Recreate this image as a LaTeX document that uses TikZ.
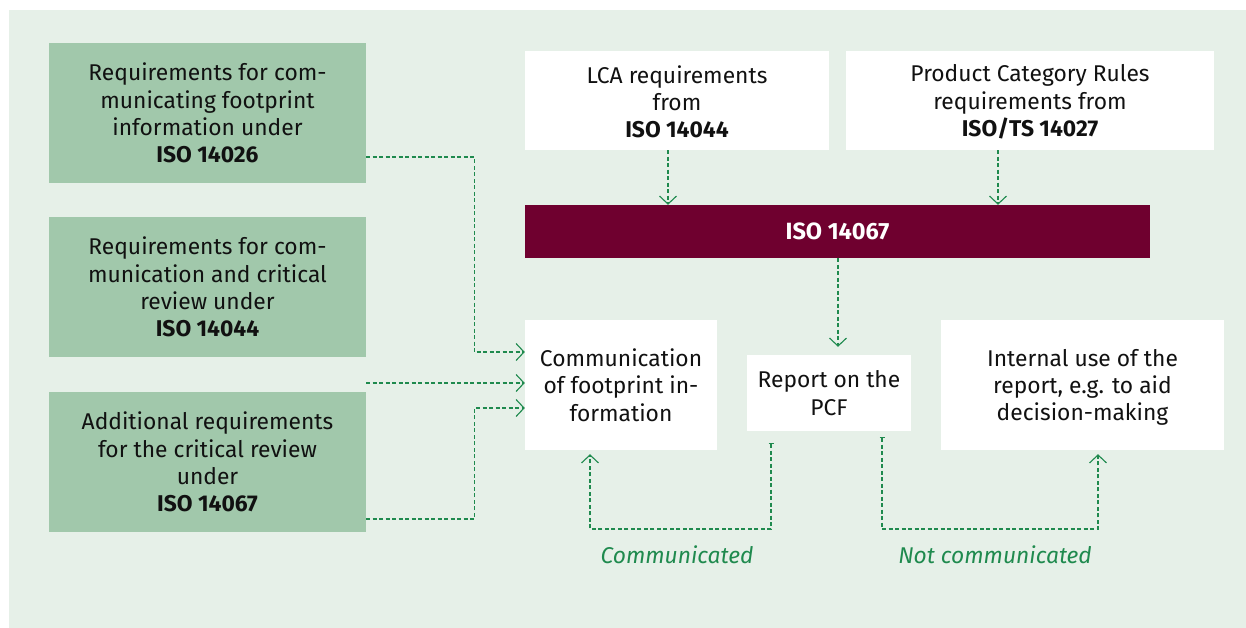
\documentclass[tikz,border=0pt]{standalone}
\usepackage{fontspec}
\setmainfont{Fira Sans}
\usetikzlibrary{arrows.meta}
\definecolor{bggreen}{HTML}{E6F0E8}
\definecolor{boxgreen}{HTML}{A1C8AB}
\definecolor{isored}{HTML}{6F002F}
\definecolor{arrgreen}{HTML}{1F8A4E}
\definecolor{txt}{HTML}{111111}
\tikzset{
  box/.style={rectangle, inner sep=0pt, align=center, text=txt,
    font=\fontsize{22.8}{27.3}\selectfont},
  greenbox/.style={box, fill=boxgreen, minimum width=317pt, minimum height=140pt},
  whitebox/.style={box, fill=white},
  conn/.style={draw=arrgreen, line width=1.1pt, dash pattern=on 4pt off 2.5pt,
    -{Straight Barb[length=8pt,width=17pt,line width=1.1pt]}},
  barconn/.style={conn, {Bar[width=5pt,line width=1.1pt]}-{Straight Barb[length=8pt,width=17pt,line width=1.1pt]}},
  lbl/.style={text=arrgreen, font=\fontsize{22.8}{27}\selectfont\itshape, inner sep=0pt}
}
\begin{document}
\begin{tikzpicture}[x=1pt,y=-1pt]
\useasboundingbox (0,0) rectangle (1246,628);
\fill[bggreen] (9,10) rectangle (1246,628);
\node[greenbox] (g1) at (207.5,113) {Requirements for com-\\municating footprint\\information under\\\textbf{ISO 14026}};
\node[greenbox] (g2) at (207.5,287) {Requirements for com-\\munication and critical\\review under\\\textbf{ISO 14044}};
\node[greenbox] (g3) at (207.5,462) {Additional requirements\\for the critical review\\under\\\textbf{ISO 14067}};
\node[whitebox, minimum width=304pt, minimum height=99pt] (lca) at (677,100.5) {\rule{0pt}{20pt}LCA requirements\\from\\\textbf{ISO 14044}};
\node[whitebox, minimum width=368pt, minimum height=99pt] (pcr) at (1030,100.5) {\rule{0pt}{20pt}Product Category Rules\\requirements from\\\textbf{ISO/TS 14027}};
\node[box, fill=isored, text=white, minimum width=625pt, minimum height=53pt, font=\fontsize{23.5}{27}\selectfont\bfseries] (iso) at (837.5,231.5) {ISO 14067};
\node[whitebox, minimum width=192pt, minimum height=130pt] (comm) at (621,385) {Communication\\of footprint in-\\formation};
\node[whitebox, minimum width=164pt, minimum height=76pt] (rep) at (829,393) {Report on the\\PCF};
\node[whitebox, minimum width=283pt, minimum height=130pt] (int) at (1082.5,385) {Internal use of the\\report, e.g. to aid\\decision-makin\smash{g}};
\coordinate (m) at (366,383);
\draw[conn] ([yshift=-44pt]g1.east) -- ++(108,0) |- ([yshift=33pt]comm.west);
\draw[conn] (m) -- (m -| comm.west);
\draw[conn] ([yshift=-57pt]g3.east) -- ++(108,0) |- ([yshift=-23pt]comm.west);
\draw[conn] (lca.south -| 668,0) -- (iso.north -| 668,0);
\draw[conn] (pcr.south -| 998,0) -- (iso.north -| 998,0);
\draw[conn, shorten >=8pt] (iso.south -| 838,0) -- (rep.north -| 838,0);
\draw[barconn, shorten <=12pt, shorten >=4pt] (rep.south -| 771,0) -- (771,529) -| (comm.south -| 590,0);
\draw[barconn, shorten <=6pt, shorten >=4pt] (rep.south -| 882,0) -- (882,529) -| (int.south -| 1098,0);
\node[lbl] (l1) at (677,555) {Communicated};
\node[lbl] (l2) at (995,555) {Not communicated};
\end{tikzpicture}
\end{document}
